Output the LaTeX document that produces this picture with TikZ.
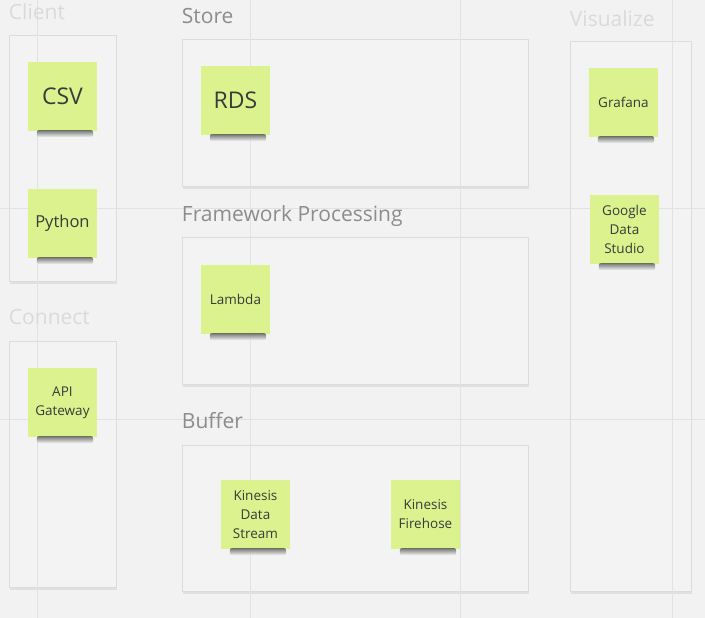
\documentclass[tikz,border=0pt]{standalone}
\usepackage{fontspec}
\setmainfont{Open Sans}
\usetikzlibrary{positioning}

\definecolor{boardbg}{HTML}{F2F2F2}
\definecolor{gridline}{HTML}{E2E2E2}
\definecolor{stickygreen}{HTML}{DBF28E}
\definecolor{framefill}{HTML}{F3F3F3}
\definecolor{frameline}{HTML}{DCDCDC}
\definecolor{titlegray}{HTML}{8C8C8C}
\definecolor{titlefaint}{HTML}{DADADA}
\definecolor{stickytext}{HTML}{3A3A3A}

\begin{document}
\begin{tikzpicture}[
        x=1pt, y=-1pt,
        frame/.style={rectangle, fill=framefill, draw=frameline, line width=0.5pt, inner sep=0pt,
            preaction={fill=black, opacity=0.07, transform canvas={xshift=0.5pt, yshift=-2.5pt}},
            preaction={fill=black, opacity=0.05, transform canvas={xshift=1pt, yshift=-1pt}}},
        sticky/.style={rectangle, fill=stickygreen, minimum size=69pt, inner sep=0pt, align=center,
            text=stickytext, font=\fontsize{13.5}{19}\selectfont},
        bigsticky/.style={sticky, font=\fontsize{23}{26}\selectfont},
        midsticky/.style={sticky, font=\fontsize{16.5}{19}\selectfont},
        title/.style={inner sep=0pt, text=titlegray, font=\fontsize{21}{24}\selectfont},
        faint/.style={title, text=titlefaint}
    ]

        \path[use as bounding box, fill=boardbg] (0,0) rectangle (705,618);

        % frames
        \node[frame, minimum width=107pt, minimum height=246pt] (client) at (62.5,158) {};
        \node[frame, minimum width=107pt, minimum height=246pt] (connect) at (62.5,464) {};
        \node[frame, minimum width=346pt, minimum height=147pt] (store) at (355,112.5) {};
        \node[frame, minimum width=346pt, minimum height=147pt] (framework) at (355,310.5) {};
        \node[frame, minimum width=346pt, minimum height=146pt] (buffer) at (355,518) {};
        \node[frame, minimum width=121pt, minimum height=550pt] (visualize) at (630.5,316) {};

        % board grid
        \foreach \gx in {37,250,460,672}
            \draw[gridline, line width=0.8pt] (\gx,0) -- (\gx,618);
        \foreach \gy in {208,419}
            \draw[gridline, line width=0.8pt] (0,\gy) -- (705,\gy);

        \node[faint, above right=15pt and 0pt of client.north west, anchor=base west] {Client};
        \node[faint, above right=16pt and 0pt of connect.north west, anchor=base west] {Connect};
        \node[title, above right=15pt and 0pt of store.north west, anchor=base west] {Store};
        \node[title, above right=15pt and 0pt of framework.north west, anchor=base west] {Framework Processing};
        \node[title, above right=16pt and 0pt of buffer.north west, anchor=base west] {Buffer};
        \node[faint, above right=14pt and 0pt of visualize.north west, anchor=base west] {Visualize};

        % stickies
        \node[bigsticky, below right=27pt and 19pt of client.north west] (csv) {CSV};
        \node[midsticky, below right=154pt and 19pt of client.north west] (python) {Python};
        \node[sticky, below right=27pt and 19pt of connect.north west] (api) {API\\Gateway};
        \node[bigsticky, below right=27pt and 19pt of store.north west] (rds) {RDS};
        \node[sticky, below right=28pt and 19pt of framework.north west] (lambda) {Lambda};
        \node[sticky, below right=35pt and 39pt of buffer.north west] (kds) {Kinesis\\Data\\Stream};
        \node[sticky, below right=35pt and 209pt of buffer.north west] (kfh) {Kinesis\\Firehose};
        \node[sticky, below right=27pt and 19pt of visualize.north west] (grafana) {Grafana};
        \node[sticky, below right=154pt and 20pt of visualize.north west] (gds) {Google\\Data\\Studio};

        \foreach \s in {csv,python,api,rds,lambda,kds,kfh,grafana,gds}
            \shade[top color=black!75, bottom color=framefill, opacity=0.7, rounded corners=2pt]
                ([xshift=9pt,yshift=1pt]\s.south west) rectangle ([xshift=-4pt,yshift=-6pt]\s.south east);
    \end{tikzpicture}
\end{document}
